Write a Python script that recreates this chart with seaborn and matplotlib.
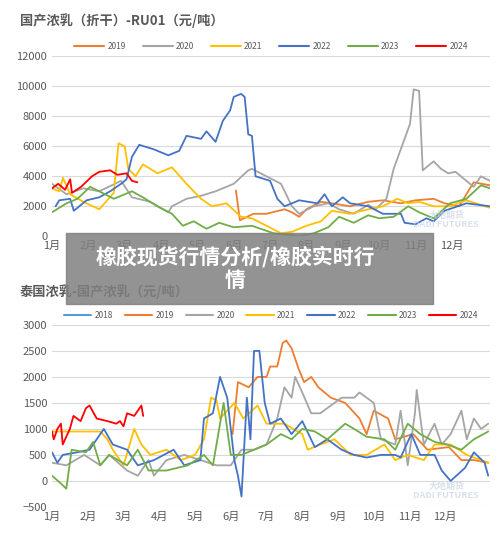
import matplotlib
matplotlib.use("Agg")
import matplotlib.pyplot as plt
import seaborn as sns
import pandas as pd

sns.set_style("white")
plt.rcParams['font.family'] = ['Noto Sans CJK SC', 'DejaVu Sans']

months = [f"{i}月" for i in range(1, 13)]
colors = {"2018": "#5B9BD5", "2019": "#ED7D31", "2020": "#A5A5A5", "2021": "#FFC000",
          "2022": "#4472C4", "2023": "#70AD47", "2024": "#FF0000"}

# ---- top chart: 国产浓乳（折干）-RU01 ----
t2019_x = [5.06,5.17,5.54,5.9,6.4,6.6,6.8,7.0,7.4,7.7,8.2,8.7,9.1,9.6,10.0,10.5,10.8,11.2,11.6,12.05]
t2019_y = [3060,1070,1500,1500,1800,1600,1300,1800,2300,2200,2000,2300,2400,2200,2400,2500,2200,2000,3600,3400]
t2020_x = [0,0.4,0.86,1.3,1.9,2.2,2.7,3.2,3.3,3.7,4.1,4.5,5.0,5.4,5.5,5.9,6.3,6.6,6.8,7.2,7.6,7.9,8.3,8.7,8.9,9.2,9.4,9.7,9.85,9.95,10.1,10.2,10.5,10.7,10.9,11.1,11.6,11.8,12.05]
t2020_y = [3500,2800,3200,3000,3700,2600,2300,1600,2000,2500,2700,3000,3500,4400,4500,4000,3500,2000,1500,2000,2200,1800,1500,2100,1800,2500,4500,6500,7500,9800,9700,4400,5000,4500,4200,4300,3300,4000,3700]
t2021_x = [0,0.2,0.3,0.5,0.86,1.3,1.7,1.83,2.0,2.1,2.3,2.5,2.9,3.3,3.7,4.1,4.4,4.8,5.2,5.5,5.9,6.3,6.6,7.0,7.4,7.7,8.2,8.7,9.1,9.5,9.8,10.1,10.5,10.95,11.4,12.05]
t2021_y = [3200,3000,3900,2800,2300,1800,2900,6200,6000,4500,4000,4800,4200,4600,3500,2500,2000,2200,1300,1200,700,200,300,700,1000,1700,1500,1800,2000,2500,2200,2300,2000,2000,2400,1900]
t2022_x = [0.1,0.2,0.5,0.6,0.95,1.3,1.6,1.9,2.05,2.2,2.4,2.8,3.2,3.5,3.7,4.1,4.25,4.5,4.7,4.9,5.0,5.2,5.3,5.4,5.5,5.6,6.0,6.2,6.4,6.8,7.3,7.5,7.7,8.0,8.2,8.7,9.1,9.6,9.7,10.0,10.3,10.5,10.8,11.4,12.05]
t2022_y = [2000,2400,2500,1700,2400,2600,3000,3500,3800,5300,6100,5800,5400,5700,6700,6500,7000,6300,7700,8400,9300,9500,9300,6800,6700,4000,3700,2500,2000,2400,2200,2800,2000,2600,2200,2000,1500,1500,900,800,1200,1000,1700,2200,2000]
t2023_x = [0,0.4,0.7,1.05,1.3,1.7,2.2,2.5,2.9,3.3,3.6,3.9,4.25,4.6,5.0,5.5,6.1,6.5,6.8,7.2,7.6,7.9,8.3,8.7,9.0,9.4,9.8,10.1,10.5,10.95,11.4,11.8,12.05]
t2023_y = [1600,2200,2500,3300,3000,2500,3000,2600,2000,1500,700,1000,500,900,600,700,200,100,0,200,600,1300,900,1400,1200,1300,2000,1600,1200,2200,2500,3400,3200]
t2024_x = [0,0.17,0.36,0.5,0.55,0.8,1.1,1.3,1.6,1.8,2.05,2.2,2.35]
t2024_y = [3200,3500,3100,3800,2900,3300,4000,4300,4400,4100,4200,3700,3600]

# ---- bottom chart: 泰国浓乳-国产浓乳 ----
b2018_x, b2018_y = [], []
b2019_x = [5.05,5.2,5.5,5.75,6.0,6.1,6.3,6.45,6.55,6.7,6.9,7.05,7.25,7.45,7.8,8.2,8.6,8.8,9.0,9.4,9.6,10.1,10.5,11.1,11.45,11.8,12.2]
b2019_y = [900,1900,1800,2000,2000,2200,2200,2650,2700,2550,2150,1900,2000,1800,1600,1500,1200,900,1350,1200,800,900,600,650,400,400,350]
b2020_x = [0,0.4,0.9,1.35,1.6,2.1,2.4,2.7,2.85,3.2,3.7,4.15,4.6,5.0,5.3,5.65,6.0,6.3,6.5,6.7,6.8,7.0,7.25,7.5,7.9,8.1,8.45,8.6,9.0,9.2,9.6,9.75,9.95,10.15,10.2,10.4,10.7,10.9,11.15,11.45,11.6,11.8,12.0,12.2]
b2020_y = [350,300,500,300,500,200,100,400,100,400,500,400,300,300,600,600,700,1200,1800,1600,2000,1700,1300,1300,1500,1600,1600,1700,1500,800,700,1350,300,1300,1750,700,1100,700,900,1350,800,1200,1000,1100]
b2021_x = [0,0.4,1.35,1.55,1.7,2.0,2.3,2.5,2.75,3.2,3.6,4.0,4.25,4.45,4.6,4.7,5.1,5.35,5.75,6.0,6.5,7.0,7.15,7.5,7.9,8.35,8.8,9.3,9.6,9.95,10.4,10.7,11.15,11.6,12.0,12.2]
b2021_y = [950,950,950,800,600,300,1000,700,500,600,400,500,800,1600,1550,1200,1500,1200,1450,1100,1100,900,600,700,800,500,500,700,400,500,400,700,700,500,400,350]
b2022_x = [0,0.15,0.3,0.7,1.05,1.25,1.45,1.7,2.1,2.4,2.85,3.4,3.7,4.15,4.25,4.5,4.7,4.9,5.1,5.2,5.3,5.45,5.55,5.65,5.8,5.95,6.1,6.4,6.7,7.0,7.35,7.7,8.1,8.45,8.8,9.2,9.6,9.75,10.05,10.3,10.7,10.9,11.15,11.55,11.8,12.1,12.2]
b2022_y = [550,350,500,550,600,800,1000,700,600,300,400,600,300,400,1200,1300,2000,1600,400,100,-300,1600,800,2500,2500,1500,1100,1200,900,1150,650,800,600,500,450,500,500,450,900,500,500,200,0,250,550,350,100]
b2023_x = [0,0.25,0.4,0.55,0.95,1.15,1.35,1.6,2.1,2.4,2.7,3.2,3.8,4.25,4.5,4.8,5.0,5.3,5.65,6.0,6.4,6.7,7.0,7.35,7.7,8.2,8.45,8.8,9.3,9.6,9.95,10.3,10.7,11.05,11.45,11.8,12.2]
b2023_y = [100,-50,-150,600,550,750,300,500,300,600,200,200,300,500,300,1500,500,500,600,700,900,800,1000,950,800,1100,1000,850,800,600,1100,900,750,700,600,800,950]
b2024_x = [0,0.05,0.15,0.25,0.3,0.5,0.6,0.8,0.95,1.05,1.25,1.55,1.8,1.9,2.0,2.1,2.3,2.5,2.55]
b2024_y = [950,800,1000,1100,700,1000,1250,1150,1400,1450,1200,1150,1100,1150,1050,1300,1250,1450,1250]

top = {"2019": (t2019_x, t2019_y), "2020": (t2020_x, t2020_y), "2021": (t2021_x, t2021_y),
       "2022": (t2022_x, t2022_y), "2023": (t2023_x, t2023_y), "2024": (t2024_x, t2024_y)}
bot = {"2018": (b2018_x, b2018_y), "2019": (b2019_x, b2019_y), "2020": (b2020_x, b2020_y),
       "2021": (b2021_x, b2021_y), "2022": (b2022_x, b2022_y), "2023": (b2023_x, b2023_y),
       "2024": (b2024_x, b2024_y)}

def to_df(d):
    rows = []
    for k, (xs, ys) in d.items():
        for i, (x, y) in enumerate(zip(xs, ys)):
            rows.append({"year": k, "x": x, "y": y, "i": i})
    return pd.DataFrame(rows)

fig = plt.figure(figsize=(5, 5.37), dpi=100)
ax1 = fig.add_axes([0.104, 0.56, 0.876, 0.335])
ax2 = fig.add_axes([0.104, 0.056, 0.876, 0.339])

tc = "#595959"
for ax, d, ylim, yt, xmax, title, ty, hl, cs in [
        (ax1, top, (0, 12000), range(0, 12001, 2000), 12.05, "国产浓乳（折干）-RU01（元/吨）", 0.975, 3.6, 2.0),
        (ax2, bot, (-500, 3000), range(-500, 3001, 500), 12.25, "泰国浓乳-国产浓乳（元/吨）", 0.47, 3.3, 1.4)]:
    df = to_df(d)
    for k in d:
        sub = df[df.year == k]
        if len(sub):
            sns.lineplot(data=sub, x="x", y="y", ax=ax, color=colors[k], lw=1.3,
                         sort=False, estimator=None)
        ax.plot([], [], color=colors[k], lw=1.5, label=k)
    ax.set_ylim(*ylim)
    ax.set_xlim(0, xmax)
    ax.set_yticks(list(yt))
    ax.set_xticks(range(12))
    ax.set_xticklabels(months)
    ax.tick_params(labelsize=8, colors=tc, length=0)
    ax.grid(axis="y", color="#D9D9D9", lw=0.8)
    ax.set_axisbelow(True)
    for s in ax.spines.values():
        s.set_visible(False)
    ax.set_xlabel(""); ax.set_ylabel("")
    ax.legend(loc="lower center", bbox_to_anchor=(0.5, 1.0), ncol=len(d), frameon=False,
              fontsize=6, handlelength=hl, handletextpad=0.4, columnspacing=cs,
              labelcolor=tc, borderaxespad=0.2)
    fig.text(0.04, ty, title, fontsize=9.5, fontweight="bold", color=tc, va="top")
    ax.text(0.9, 0.09, "大地期货\nDADI FUTURES", transform=ax.transAxes, ha="center", va="center",
            fontsize=6.5, color="#C8D4E4", alpha=0.7, fontweight="bold", linespacing=1.0)

# banner overlay
fig.patches.append(plt.Rectangle((0.132, 0.434), 0.734, 0.132, transform=fig.transFigure,
                                 color="#808080", alpha=0.85, zorder=10))
fig.text(0.47, 0.50, "橡胶现货行情分析/橡胶实时行\n情", ha="center", va="center", fontsize=15,
         fontweight="bold", color="white", zorder=11, linespacing=1.15)

fig.savefig("out.png", dpi=100)
